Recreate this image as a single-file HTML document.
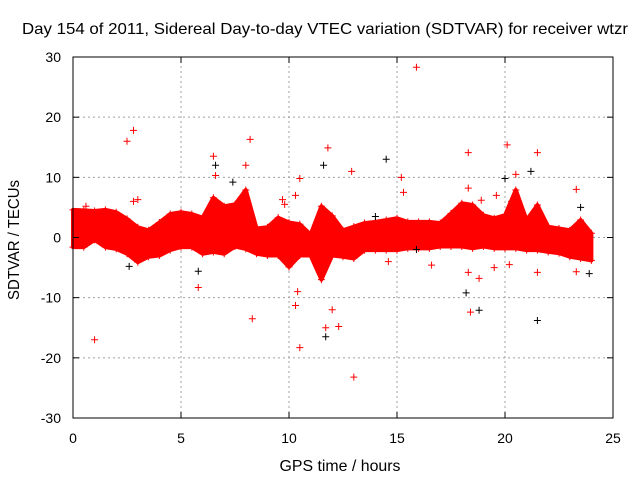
<!DOCTYPE html>
<html><head><meta charset="utf-8"><style>
body{margin:0;background:#fff;}
svg text{font-family:"Liberation Sans",sans-serif;font-size:14px;fill:#000;}
</style></head><body>
<svg id="chart" width="640" height="480">
<text x="325" y="34" text-anchor="middle" style="font-size:16px" textLength="606" lengthAdjust="spacingAndGlyphs">Day 154 of 2011, Sidereal Day-to-day VTEC variation (SDTVAR) for receiver wtzr</text>
<text x="340" y="471" text-anchor="middle" style="font-size:16px" textLength="121" lengthAdjust="spacingAndGlyphs">GPS time / hours</text>
<text transform="translate(19,240) rotate(-90)" text-anchor="middle" style="font-size:16px" textLength="120" lengthAdjust="spacingAndGlyphs">SDTVAR / TECUs</text>
<g id="grid"></g><g id="band"></g><g id="pts"></g><g id="axes"></g>
</svg>
<script>
const xTicks=[0,5,10,15,20,25];
const yTicks=[-30,-20,-10,0,10,20,30];
const bandTimes=[0,0.5,1,1.5,2,2.5,3,3.5,4,4.5,5,5.5,6,6.5,7,7.5,8,8.5,9,9.5,10,10.5,11,11.5,12,12.5,13,13.5,14,14.5,15,15.5,16,16.5,17,17.5,18,18.5,19,19.5,20,20.5,21,21.5,22,22.5,23,23.5,24];
const bandHigh=[4.6,4.5,4.4,4.6,4.2,3.1,1.7,1.2,2.5,3.9,4.2,3.9,3.3,6.6,5.2,5.5,7.9,1.5,1.7,3.3,2.5,2.2,0.5,5.2,3.6,1.2,1.8,2.4,2.6,2.9,3.2,2.6,2.6,2.6,2.4,4.0,5.7,5.4,3.7,3.2,3.7,7.9,2.9,5.4,1.8,1.5,1.2,2.9,0.7];
const bandLow=[-1.6,-1.6,-0.4,-1.6,-1.9,-2.7,-4.1,-3.2,-3.0,-2.1,-1.6,-1.6,-2.7,-2.4,-2.7,-1.5,-1.9,-2.7,-3.0,-3.0,-4.9,-3.0,-3.0,-7.0,-3.0,-3.2,-3.5,-2.1,-2.1,-2.1,-2.1,-1.8,-1.8,-1.8,-1.5,-1.5,-1.5,-1.8,-1.5,-1.8,-1.8,-1.8,-2.1,-2.1,-2.4,-2.6,-3.2,-3.5,-3.8];
const redT=[0.6,1.0,2.5,2.8,2.8,3.0,5.8,6.5,6.6,8.0,8.2,8.3,9.7,9.8,10.3,10.4,10.3,10.5,10.5,11.8,11.7,12.0,12.3,12.9,13.0,14.6,15.2,15.3,15.9,16.6,18.3,18.3,18.4,18.3,18.8,18.9,19.5,19.6,20.1,20.2,20.3,20.5,21.5,21.5,23.3,23.3];
const redV=[5.2,-17,16,17.8,6,6.3,-8.3,13.5,10.3,12,16.3,-13.5,6.3,5.5,7,-9,-11.3,9.8,-18.3,14.9,-15,-12,-14.8,11,-23.2,-4,10,7.5,28.3,-4.6,14.1,8.2,-12.4,-5.8,-6.8,6.2,-5,7,15.4,-4.5,6,10.5,14.1,-5.8,8,-5.7];
const blackT=[2.6,5.8,6.6,7.4,11.6,11.7,14.0,14.5,15.9,18.2,18.8,20.0,21.2,21.5,23.9,23.5];
const blackV=[-4.8,-5.6,12,9.2,12,-16.5,3.5,13,-2,-9.2,-12.1,9.8,11,-13.8,-6,5];
const X0=73,X1=613,Y0=418,Y1=57;
const sx=t=>X0+(t-0)/(25-0)*(X1-X0);
const sy=v=>Y0-(v+30)/60*(Y0-Y1);
const NS="http://www.w3.org/2000/svg";
function mk(tag,attrs,parent){const e=document.createElementNS(NS,tag);for(const k in attrs)e.setAttribute(k,attrs[k]);parent.appendChild(e);return e;}
const grid=document.getElementById('grid'),axes=document.getElementById('axes'),band=document.getElementById('band'),pts=document.getElementById('pts');
xTicks.forEach(t=>{const x=sx(t);
 if(t>0&&t<25){const l=mk('line',{x1:x,y1:Y0,x2:x,y2:Y1,stroke:'#a0a0a0','stroke-dasharray':'2,3'},grid);
 
 }
 mk('line',{x1:x,y1:Y0,x2:x,y2:Y0-6,stroke:'#000'},axes);mk('line',{x1:x,y1:Y1,x2:x,y2:Y1+6,stroke:'#000'},axes);
 const tx=mk('text',{x:x,y:443,'text-anchor':'middle'},axes);tx.textContent=t;
 
 });
yTicks.forEach(v=>{const y=sy(v);
 if(v>-30&&v<30){const l=mk('line',{x1:X0,y1:y,x2:X1,y2:y,stroke:'#a0a0a0','stroke-dasharray':'2,3'},grid);
 
 }
 mk('line',{x1:X0,y1:y,x2:X0+6,y2:y,stroke:'#000'},axes);mk('line',{x1:X1,y1:y,x2:X1-6,y2:y,stroke:'#000'},axes);
 const tx=mk('text',{x:61,y:y+5,'text-anchor':'end'},axes);tx.textContent=v;
 
 });
const frame=mk('rect',{x:X0,y:Y1,width:X1-X0,height:Y0-Y1,fill:'none',stroke:'#000','stroke-width':1},axes);


let d='';bandTimes.forEach((t,i)=>{d+=(i?'L':'M')+sx(t)+','+sy(bandHigh[i]);});
for(let i=bandTimes.length-1;i>=0;i--)d+='L'+sx(bandTimes[i])+','+sy(bandLow[i]);
const bp=mk('path',{d:d+'Z',fill:'#ff0000',stroke:'#ff0000','stroke-width':4,'stroke-linejoin':'round'},band);


function cross(t,v,c,name){const x=sx(t),y=sy(v);
 const p=mk('path',{d:`M${x-3.5},${y}H${x+3.5}M${x},${y-3.5}V${y+3.5}`,stroke:c,'stroke-width':1},pts);
 
 }
bandTimes.forEach((t,i)=>{cross(t,bandHigh[i],'#ff0000','band-point');cross(t,bandLow[i],'#ff0000','band-point');});
blackT.forEach((t,i)=>cross(t,blackV[i],'#000','black-outlier'));
redT.forEach((t,i)=>cross(t,redV[i],'#ff0000','red-outlier'));
</script>
</body></html>
